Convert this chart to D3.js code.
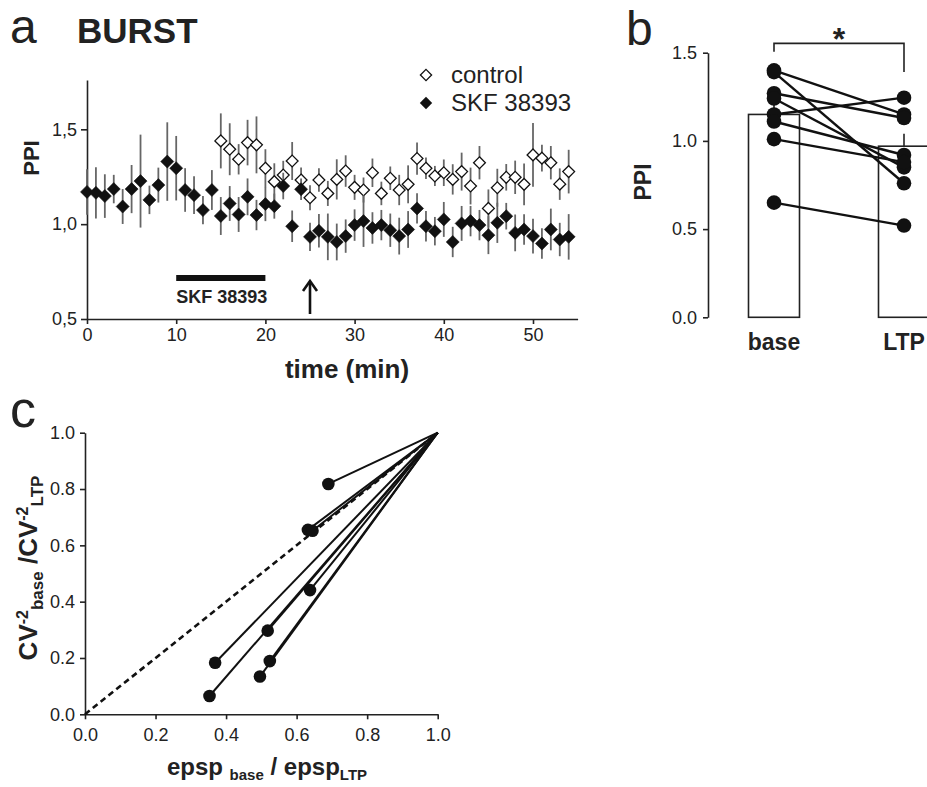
<!DOCTYPE html>
<html>
<head>
<meta charset="utf-8">
<script src="https://cdn.jsdelivr.net/npm/d3@7"></script>
<style>
  body { margin: 0; background: #fff; }
  text { font-family: "Liberation Sans", Arial, sans-serif; fill: #222; }
</style>
</head>
<body>
<script>
// ---- panel a : PPI vs time, one point per minute ----
var skfTime = d3.range(0, 55);
var skfMean = [1.17, 1.165, 1.148, 1.185, 1.093, 1.185, 1.227, 1.128, 1.206, 1.33,
               1.295, 1.18, 1.153, 1.074, 1.18, 1.043, 1.109, 1.051, 1.144, 1.048,
               1.106, 1.095, 1.201, 0.989, 1.184, 0.933, 0.965, 0.933, 0.906, 0.937,
               0.995, 1.016, 0.98, 0.995, 0.968, 0.937, 0.972, 1.083, 0.989, 0.963,
               1.025, 0.906, 1.004, 1.016, 0.995, 0.942, 1.007, 1.042, 0.954, 0.972,
               0.937, 0.898, 0.972, 0.919, 0.933];
var skfErr = [0.12, 0.135, 0.115, 0.075, 0.092, 0.127, 0.245, 0.075, 0.092, 0.207,
              0.17, 0.115, 0.1, 0.075, 0.105, 0.1, 0.092, 0.092, 0.097, 0.08,
              0.09, 0.066, 0.07, 0.083, 0.057, 0.075, 0.088, 0.123, 0.097, 0.088,
              0.083, 0.136, 0.083, 0.08, 0.088, 0.097, 0.097, 0.08, 0.08, 0.075,
              0.092, 0.08, 0.092, 0.08, 0.08, 0.1, 0.106, 0.07, 0.097, 0.08,
              0.092, 0.08, 0.11, 0.088, 0.12];
var ctrlTime = d3.range(15, 55);
var ctrlMean = [1.439, 1.395, 1.342, 1.43, 1.418, 1.295, 1.224, 1.259, 1.333, 1.233,
                1.139, 1.233, 1.162, 1.236, 1.28, 1.194, 1.18, 1.271, 1.162, 1.242,
                1.18, 1.21, 1.346, 1.295, 1.254, 1.271, 1.236, 1.277, 1.201, 1.324,
                1.083, 1.192, 1.247, 1.247, 1.21, 1.365, 1.348, 1.324, 1.211, 1.277];
var ctrlErr = [0.145, 0.137, 0.08, 0.12, 0.15, 0.1, 0.097, 0.075, 0.1, 0.066,
               0.066, 0.062, 0.066, 0.106, 0.083, 0.066, 0.066, 0.075, 0.062, 0.062,
               0.08, 0.1, 0.085, 0.057, 0.053, 0.07, 0.08, 0.1, 0.097, 0.088,
               0.1, 0.1, 0.07, 0.088, 0.11, 0.168, 0.07, 0.088, 0.083, 0.115];
var aTicksX = [0, 10, 20, 30, 40, 50];
var aTicksY = [0.5, 1.0, 1.5];
var drugWindow = [10, 20];   // SKF 38393 application (min)
var ltpTime = 25;            // arrow

// ---- panel b : PPI base vs LTP ----
var bCats = ["base", "LTP"];
var bMeans = [1.15, 0.97];
var bErr = [0.07, 0.07];
var bBase = [1.40, 1.39, 1.27, 1.24, 1.15, 1.11, 1.01, 0.65];
var bLtp  = [1.15, 0.76, 1.13, 0.85, 1.245, 0.92, 0.88, 0.52];
var bTicks = [0.0, 0.5, 1.0, 1.5];

// ---- panel c : CV analysis ----
var cEpsp = [0.69, 0.632, 0.645, 0.638, 0.518, 0.369, 0.524, 0.496, 0.353];
var cCv   = [0.818, 0.655, 0.652, 0.441, 0.297, 0.183, 0.189, 0.134, 0.065];
var cTicks = [0, 0.2, 0.4, 0.6, 0.8, 1.0];

var svg = d3.select("body").append("svg")
    .attr("width", 927).attr("height", 787);
svg.append("rect").attr("width", 927).attr("height", 787).attr("fill", "#fff");

function styleAxis(g, fs) {
  g.selectAll("path.domain").attr("stroke", "#222").attr("stroke-width", 1.6);
  g.selectAll(".tick line").attr("stroke", "#222").attr("stroke-width", 1.6);
  g.selectAll(".tick text").attr("font-size", fs).attr("fill", "#333")
    .attr("font-family", "Liberation Sans, Arial, sans-serif");
}

function diamond(r) {
  return "M0," + (-r) + "L" + r + ",0L0," + r + "L" + (-r) + ",0Z";
}

// =================== panel a ===================
var xA = d3.scaleLinear().domain([0, 55]).range([87, 577.6]);
var yA = d3.scaleLinear().domain([0.5, 1.76]).range([319, 80]);

var gxA = svg.append("g").attr("transform", "translate(0," + yA(0.5) + ")")
  .call(d3.axisBottom(xA).tickValues(aTicksX).tickSize(5).tickSizeOuter(0).tickPadding(4));
styleAxis(gxA, 18);
var gyA = svg.append("g").attr("transform", "translate(" + xA(0) + ",0)")
  .call(d3.axisLeft(yA).tickValues(aTicksY).tickSize(6).tickSizeOuter(0).tickPadding(4)
    .tickFormat(function(d) { return d3.format(".1f")(d).replace(".", ","); }));
styleAxis(gyA, 18);

svg.append("text").attr("x", 10).attr("y", 43).attr("font-size", 48).text("a");
svg.append("text").attr("x", 77).attr("y", 43).attr("font-size", 35)
  .attr("font-weight", "bold").text("BURST");

svg.append("text").attr("transform", "translate(39,158) rotate(-90)")
  .attr("text-anchor", "middle").attr("font-size", 22).attr("font-weight", "bold").text("PPI");
svg.append("text").attr("x", 347).attr("y", 378).attr("text-anchor", "middle")
  .attr("font-size", 26).attr("font-weight", "bold").text("time (min)");

var ctrl = ctrlTime.map(function(t, i) { return {t: t, m: ctrlMean[i], e: ctrlErr[i]}; });
var skf = skfTime.map(function(t, i) { return {t: t, m: skfMean[i], e: skfErr[i]}; });

function drawSeries(data, open) {
  svg.append("g").selectAll("line").data(data).enter().append("line")
    .attr("x1", function(d) { return xA(d.t); })
    .attr("x2", function(d) { return xA(d.t); })
    .attr("y1", function(d) { return yA(d.m - d.e); })
    .attr("y2", function(d) { return yA(d.m + d.e); })
    .attr("stroke", "#666").attr("stroke-width", 1.8);
  svg.append("g").selectAll("path").data(data).enter().append("path")
    .attr("transform", function(d) { return "translate(" + xA(d.t) + "," + yA(d.m) + ")"; })
    .attr("d", diamond(open ? 5.9 : 6.5))
    .attr("fill", open ? "#fff" : "#111")
    .attr("stroke", "#111").attr("stroke-width", open ? 1.3 : 0.6);
}
drawSeries(ctrl, true);
drawSeries(skf, false);

// legend
svg.append("path").attr("transform", "translate(426,75)").attr("d", diamond(5.6))
  .attr("fill", "#fff").attr("stroke", "#111").attr("stroke-width", 1.3);
svg.append("text").attr("x", 451).attr("y", 83).attr("font-size", 24).text("control");
svg.append("path").attr("transform", "translate(426,103)").attr("d", diamond(6.2))
  .attr("fill", "#111");
svg.append("text").attr("x", 451).attr("y", 111).attr("font-size", 24).text("SKF 38393");

// drug bar + label
svg.append("line").attr("x1", xA(drugWindow[0])).attr("x2", xA(drugWindow[1]))
  .attr("y1", 278).attr("y2", 278).attr("stroke", "#111").attr("stroke-width", 6);
svg.append("text").attr("x", xA(drugWindow[0])).attr("y", 303).attr("font-size", 18)
  .attr("font-weight", "bold").text("SKF 38393");

// arrow at LTP induction
var ax = xA(ltpTime);
svg.append("line").attr("x1", ax).attr("x2", ax).attr("y1", 314).attr("y2", 282)
  .attr("stroke", "#111").attr("stroke-width", 2.6);
svg.append("path").attr("d", "M" + (ax - 7) + ",291L" + ax + ",281L" + (ax + 7) + ",291")
  .attr("fill", "none").attr("stroke", "#111").attr("stroke-width", 2.6);

// =================== panel b ===================
var xB = d3.scalePoint().domain(bCats).range([774, 904]);
var yB = d3.scaleLinear().domain([0, 1.5]).range([317.3, 52.7]);
var barW = 51;

svg.append("text").attr("x", 626).attr("y", 45).attr("font-size", 48).text("b");

svg.append("g").selectAll("rect").data(bCats).enter().append("rect")
  .attr("x", function(d) { return xB(d) - barW / 2; })
  .attr("y", function(d, i) { return yB(bMeans[i]); })
  .attr("width", barW)
  .attr("height", function(d, i) { return yB(0) - yB(bMeans[i]); })
  .attr("fill", "#fff").attr("stroke", "#222").attr("stroke-width", 1.6);
svg.append("g").selectAll("line").data(bCats).enter().append("line")
  .attr("x1", function(d) { return xB(d); }).attr("x2", function(d) { return xB(d); })
  .attr("y1", function(d, i) { return yB(bMeans[i]); })
  .attr("y2", function(d, i) { return yB(bMeans[i] + bErr[i]); })
  .attr("stroke", "#222").attr("stroke-width", 1.6);

var gyB = svg.append("g").attr("transform", "translate(708,0)")
  .call(d3.axisLeft(yB).tickValues(bTicks).tickSize(5).tickSizeOuter(0).tickPadding(6)
    .tickFormat(d3.format(".1f")));
styleAxis(gyB, 18);

svg.append("g").selectAll("line").data(bBase).enter().append("line")
  .attr("x1", xB("base")).attr("x2", xB("LTP"))
  .attr("y1", function(d) { return yB(d); })
  .attr("y2", function(d, i) { return yB(bLtp[i]); })
  .attr("stroke", "#111").attr("stroke-width", 2.4);
svg.append("g").selectAll("circle").data(bBase.concat(bLtp)).enter().append("circle")
  .attr("cx", function(d, i) { return i < bBase.length ? xB("base") : xB("LTP"); })
  .attr("cy", function(d) { return yB(d); })
  .attr("r", 7.3).attr("fill", "#111");

svg.append("text").attr("transform", "translate(651,182) rotate(-90)")
  .attr("text-anchor", "middle").attr("font-size", 23).attr("font-weight", "bold").text("PPI");
svg.append("g").selectAll("text").data(bCats).enter().append("text")
  .attr("x", function(d) { return xB(d); }).attr("y", 350)
  .attr("text-anchor", "middle").attr("font-size", 23).attr("font-weight", "bold")
  .text(function(d) { return d; });

// significance bracket
svg.append("path")
  .attr("d", "M" + xB("base") + "," + yB(1.505) + "V" + yB(1.553) +
             "H" + xB("LTP") + "V" + yB(1.39))
  .attr("fill", "none").attr("stroke", "#222").attr("stroke-width", 1.6);
svg.append("text").attr("x", (xB("base") + xB("LTP")) / 2).attr("y", 50)
  .attr("text-anchor", "middle").attr("font-size", 32).attr("font-weight", "bold").text("*");

// =================== panel c ===================
var xC = d3.scaleLinear().domain([0, 1]).range([85, 437.7]);
var yC = d3.scaleLinear().domain([0, 1]).range([714.3, 432.7]);

svg.append("text").attr("x", 10).attr("y", 427).attr("font-size", 52).text("c");

var gxC = svg.append("g").attr("transform", "translate(0," + yC(0) + ")")
  .call(d3.axisBottom(xC).tickValues(cTicks).tickSize(5).tickSizeOuter(0).tickPadding(9)
    .tickFormat(d3.format(".1f")));
styleAxis(gxC, 18);
var gyC = svg.append("g").attr("transform", "translate(" + xC(0) + ",0)")
  .call(d3.axisLeft(yC).tickValues(cTicks).tickSize(5).tickSizeOuter(0).tickPadding(5)
    .tickFormat(d3.format(".1f")));
styleAxis(gyC, 18);

svg.append("line").attr("x1", xC(0)).attr("y1", yC(0)).attr("x2", xC(1)).attr("y2", yC(1))
  .attr("stroke", "#111").attr("stroke-width", 2.6).attr("stroke-dasharray", "6,4");

svg.append("g").selectAll("line").data(cEpsp).enter().append("line")
  .attr("x1", function(d) { return xC(d); })
  .attr("y1", function(d, i) { return yC(cCv[i]); })
  .attr("x2", xC(1)).attr("y2", yC(1))
  .attr("stroke", "#111").attr("stroke-width", 2);
svg.append("g").selectAll("circle").data(cEpsp).enter().append("circle")
  .attr("cx", function(d) { return xC(d); })
  .attr("cy", function(d, i) { return yC(cCv[i]); })
  .attr("r", 6.3).attr("fill", "#111");

// y label with super/subscripts
var yl = svg.append("text").attr("transform", "translate(37,568) rotate(-90)")
  .attr("text-anchor", "middle").attr("font-weight", "bold").attr("font-size", 26);
yl.append("tspan").text("CV");
yl.append("tspan").attr("font-size", 16).attr("dy", -9).text("-2");
yl.append("tspan").attr("font-size", 17).attr("dy", 15).text("base");
yl.append("tspan").attr("dy", -6).text(" /CV");
yl.append("tspan").attr("font-size", 16).attr("dy", -9).text("-2");
yl.append("tspan").attr("font-size", 17).attr("dy", 15).text("LTP");

var xl = svg.append("text").attr("x", 267).attr("y", 775)
  .attr("text-anchor", "middle").attr("font-weight", "bold").attr("font-size", 24);
xl.append("tspan").text("epsp ");
xl.append("tspan").attr("font-size", 15).attr("dy", 5).text("base");
xl.append("tspan").attr("dy", -5).text(" / epsp");
xl.append("tspan").attr("font-size", 15).attr("dy", 5).text("LTP");
</script>
</body>
</html>
